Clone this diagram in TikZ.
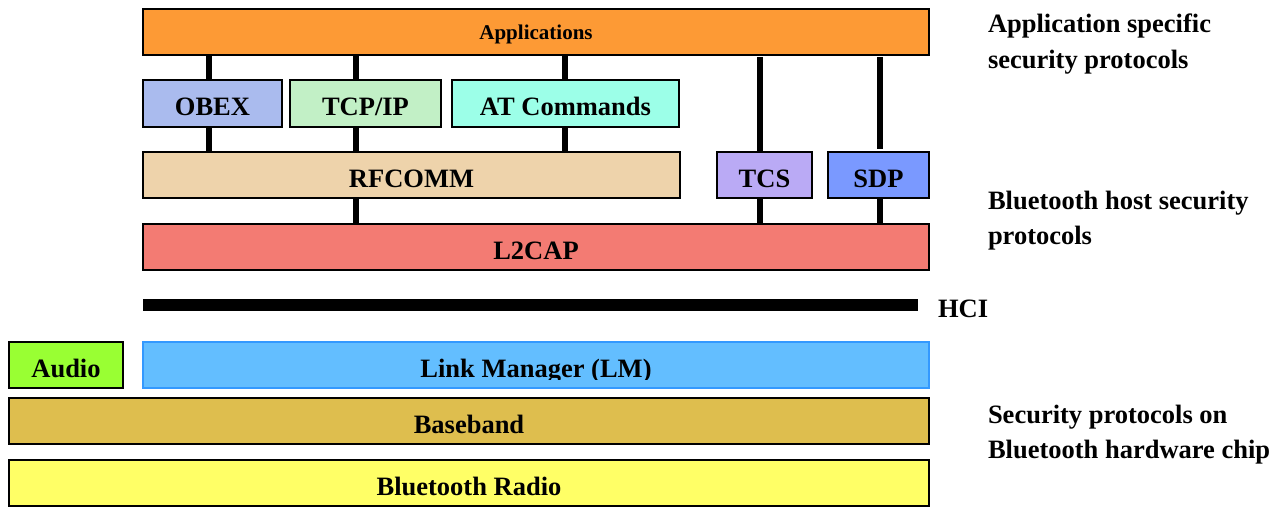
\documentclass[tikz,border=0pt]{standalone}
\usepackage{fontspec}
\setmainfont{Liberation Serif}
\definecolor{cApp}{HTML}{FD9A35}
\definecolor{cObex}{HTML}{AABBEE}
\definecolor{cTcp}{HTML}{C2F0C6}
\definecolor{cAt}{HTML}{9CFFE8}
\definecolor{cRf}{HTML}{EED3AB}
\definecolor{cTcs}{HTML}{BAAAF5}
\definecolor{cSdp}{HTML}{7A99FF}
\definecolor{cL2}{HTML}{F37B73}
\definecolor{cAudio}{HTML}{99FF33}
\definecolor{cLm}{HTML}{63BEFF}
\definecolor{cLmB}{HTML}{3399FF}
\definecolor{cBase}{HTML}{DEBE4E}
\definecolor{cRadio}{HTML}{FFFF66}
\begin{document}
\begin{tikzpicture}[x=1pt,y=-1pt,
  box/.style={draw=black, line width=1.4pt, inner sep=0pt, outer sep=0pt,
    font=\fontsize{26.5}{30}\selectfont\bfseries, text height=25pt, text depth=0pt, anchor=center},
  conn/.style={line width=6pt, draw=black},
  lbl/.style={anchor=base west, inner sep=0pt, outer sep=0pt, font=\fontsize{26.5}{30}\selectfont\bfseries}]
\useasboundingbox (0,0) rectangle (1288,508);
\fill[white] (0,0) rectangle (1288,508);

% connector x positions
\coordinate (x1) at (209,0);
\coordinate (x2) at (356,0);
\coordinate (x3) at (565,0);
\coordinate (x4) at (760,0);
\coordinate (x5) at (880,0);

% boxes
\node[box, fill=cApp, minimum width=786pt, minimum height=46pt,
  font=\fontsize{21}{24}\selectfont\bfseries, text height=16pt] (app) at (536,32) {Applications};
\node[box, fill=cObex, minimum width=139pt, minimum height=47pt] (obex) at (212.5,103.5) {OBEX};
\node[box, fill=cTcp, minimum width=151pt, minimum height=47pt] (tcp) at (365.5,103.5) {TCP/IP};
\node[box, fill=cAt, minimum width=227pt, minimum height=47pt] (at) at (565.5,103.5) {AT Commands};
\node[box, fill=cRf, minimum width=537pt, minimum height=46pt] (rf) at (411.5,175) {RFCOMM};
\node[box, fill=cTcs, minimum width=95pt, minimum height=46pt] (tcs) at (764.5,175) {TCS};
\node[box, fill=cSdp, minimum width=101pt, minimum height=46pt] (sdp) at (878.5,175) {SDP};
\node[box, fill=cL2, minimum width=786pt, minimum height=46pt] (l2) at (536,247) {L2CAP};
\node[fill=black, inner sep=0pt, outer sep=0pt, minimum width=775pt, minimum height=12pt] (hci) at (530.5,305) {};
\node[box, fill=cAudio, minimum width=114pt, minimum height=46pt] (audio) at (66,365) {Audio};
\node[box, fill=cLm, draw=cLmB, minimum width=786pt, minimum height=46pt] (lm) at (536,365) {};
\begin{scope}
  \clip (143,342) rectangle (929,379);
  \node[box, draw=none, fill=none] (lmtext) at (lm.center) {Link Manager (LM)};
\end{scope}
\node[box, fill=cBase, minimum width=920pt, minimum height=46pt] (base) at (469,421) {Baseband};
\node[box, fill=cRadio, minimum width=920pt, minimum height=46pt] (radio) at (469,483) {Bluetooth Radio};

% connectors
\draw[conn] (app.south -| x1) -- (obex.north -| x1);
\draw[conn] (app.south -| x2) -- (tcp.north -| x2);
\draw[conn] (app.south -| x3) -- (at.north -| x3);
\draw[conn] (obex.south -| x1) -- (rf.north -| x1);
\draw[conn] (tcp.south -| x2) -- (rf.north -| x2);
\draw[conn] (at.south -| x3) -- (rf.north -| x3);
\draw[conn] ([yshift=-2pt]app.south -| x4) -- (tcs.north -| x4);
\draw[conn] ([yshift=-2pt]app.south -| x5) -- ([yshift=3pt]sdp.north -| x5);
\draw[conn] (rf.south -| x2) -- (l2.north -| x2);
\draw[conn] (tcs.south -| x4) -- (l2.north -| x4);
\draw[conn] (sdp.south -| x5) -- (l2.north -| x5);

% side labels
\node[lbl] (la1) at (988,33) {Application specific};
\node[lbl] (la2) at (988,69) {security protocols};
\node[lbl] (lb1) at (988,209) {Bluetooth host security};
\node[lbl] (lb2) at (988,244) {protocols};
\node[lbl] (lhci) at (938,317) {HCI};
\node[lbl] (lc1) at (988,423) {Security protocols on};
\node[lbl] (lc2) at (988,458) {Bluetooth hardware chip};
\end{tikzpicture}
\end{document}
